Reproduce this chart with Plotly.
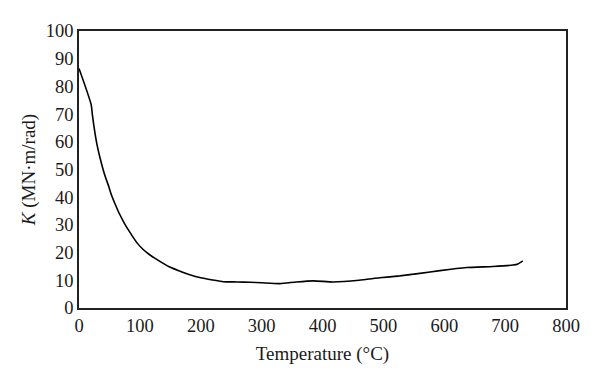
import plotly.graph_objects as go

temperature = [0, 20, 22, 26, 30, 35, 42, 49, 53, 60, 66, 75, 84, 95, 105, 115, 125, 149,
               166, 182, 200, 220, 237, 260, 281, 300, 330, 357, 385, 418, 460, 494, 527,
               560, 593, 637, 680, 713, 721, 729]
stiffness = [86.5, 73.4, 69.7, 63.5, 58.5, 53.8, 48.2, 43.8, 41.0, 37.2, 34.2, 30.4, 27.2,
             23.6, 21.2, 19.4, 17.9, 14.8, 13.3, 12.0, 10.9, 10.1, 9.5, 9.4, 9.3, 9.1,
             8.8, 9.4, 9.8, 9.4, 10.0, 10.9, 11.6, 12.5, 13.5, 14.6, 15.0, 15.5, 15.9, 17.0]

x_ticks = list(range(0, 801, 100))
y_ticks = list(range(0, 101, 10))

font = "Liberation Serif, Times New Roman, serif"

fig = go.Figure(go.Scatter(
    x=temperature, y=stiffness, mode="lines",
    line=dict(color="black", width=1.6, shape="spline", smoothing=0.6),
    showlegend=False,
))

# page body has an 8px margin, so offset the plot margins accordingly
fig.update_layout(
    width=600, height=385,
    margin=dict(l=71, r=42, t=23, b=85),
    paper_bgcolor="white", plot_bgcolor="white",
    font=dict(family=font, size=18.5, color="#1a1a1a"),
)
fig.update_xaxes(
    range=[0, 800], tickvals=x_ticks, showgrid=False, zeroline=False,
    showline=True, linecolor="#222", linewidth=1.5, mirror=True, ticks="",
    title=dict(text="Temperature (°C)", standoff=12, font=dict(size=19)),
)
fig.update_yaxes(
    range=[0, 100], tickvals=y_ticks, showgrid=False, zeroline=False,
    showline=True, linecolor="#222", linewidth=1.5, mirror=True, ticks="",
    title=dict(text="<i>K</i> (MN·m/rad)", standoff=5, font=dict(size=19)),
)

fig.write_html("out.html")
